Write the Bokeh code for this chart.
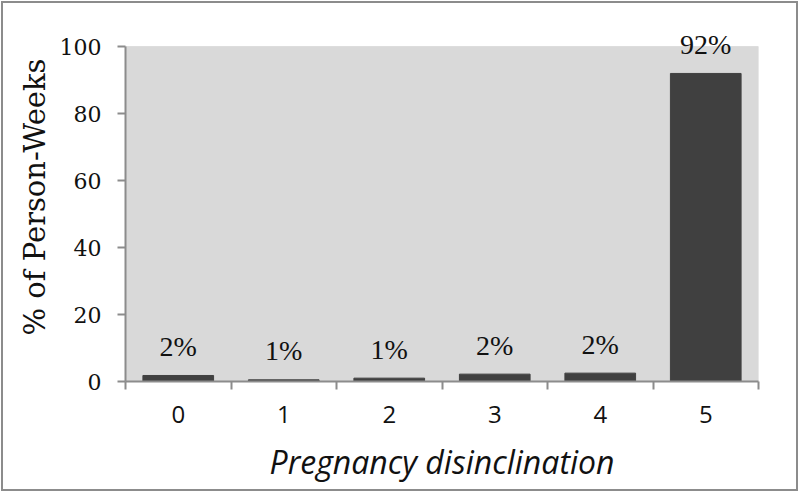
from bokeh.plotting import figure
from bokeh.models import FixedTicker, ColumnDataSource, Range1d
from bokeh.core.properties import value
from bokeh.embed import file_html
from bokeh.resources import INLINE

categories = [0, 1, 2, 3, 4, 5]
values = [1.8, 0.5, 1.0, 2.2, 2.5, 92.0]
labels = ["2%", "1%", "1%", "2%", "2%", "92%"]
y_ticks = [0, 20, 40, 60, 80, 100]
y_max = 100

src = ColumnDataSource(dict(x=categories, top=values, label=labels))

p = figure(width=793, height=486, output_backend="svg", toolbar_location=None,
           x_range=Range1d(-0.5, 5.5), y_range=Range1d(0, 110.2),
           min_border_left=122, min_border_right=42, min_border_top=9, min_border_bottom=112)
p.background_fill_color = "white"
p.border_fill_color = "white"
p.outline_line_color = None
p.grid.visible = False
p.styles = {"border": "2px solid #8c8c8c", "box-sizing": "content-box",
            "margin-left": "1px", "margin-top": "1px"}

# plot-area background limited to 0..100
p.quad(left=[categories[0] - 0.5], right=[categories[-1] + 0.5], bottom=[0], top=[y_max],
       color="#d9d9d9")

p.vbar(x="x", top="top", width=0.67, bottom=0, source=src, color="#404040")
p.text(x="x", y="top", text="label", source=src, text_align="center",
       text_baseline="middle", y_offset=-29, text_font=value("Liberation Serif"),
       text_font_size="28px", text_color="#111111")

# x axis
p.xaxis.ticker = FixedTicker(ticks=categories, minor_ticks=[c - 0.5 for c in categories] + [5.5])
p.xaxis.major_tick_out = 0
p.xaxis.major_tick_in = 0
p.xaxis.minor_tick_out = 8
p.xaxis.minor_tick_in = 0
p.xaxis.minor_tick_line_color = "#8c8c8c"
p.xaxis.minor_tick_line_width = 2
p.xaxis.axis_line_color = "#8c8c8c"
p.xaxis.axis_line_width = 2
p.xaxis.major_label_text_font = "Open Sans"
p.xaxis.major_label_text_font_size = "24px"
p.xaxis.major_label_text_color = "#111111"
p.xaxis.major_label_standoff = 16
p.xaxis.axis_label = "Pregnancy disinclination"
p.xaxis.axis_label_text_font = "Open Sans"
p.xaxis.axis_label_text_font_style = "italic"
p.xaxis.axis_label_text_font_size = "32px"
p.xaxis.axis_label_text_color = "#111111"
p.xaxis.axis_label_standoff = 14

# y axis
p.yaxis.ticker = FixedTicker(ticks=y_ticks)
p.yaxis.bounds = (0, y_max)
p.yaxis.minor_tick_line_color = None
p.yaxis.major_tick_out = 8
p.yaxis.major_tick_in = 0
p.yaxis.major_tick_line_color = "#8c8c8c"
p.yaxis.major_tick_line_width = 2
p.yaxis.axis_line_color = "#8c8c8c"
p.yaxis.axis_line_width = 2
p.yaxis.major_label_text_font = "DejaVu Serif"
p.yaxis.major_label_text_font_size = "22px"
p.yaxis.major_label_text_color = "#111111"
p.yaxis.major_label_standoff = 16
p.yaxis.axis_label = "% of Person-Weeks"
p.yaxis.axis_label_text_font = "DejaVu Serif"
p.yaxis.axis_label_text_font_style = "normal"
p.yaxis.axis_label_text_font_size = "29px"
p.yaxis.axis_label_text_color = "#111111"
p.yaxis.axis_label_standoff = 5

open("out.html", "w").write(file_html(p, INLINE))
